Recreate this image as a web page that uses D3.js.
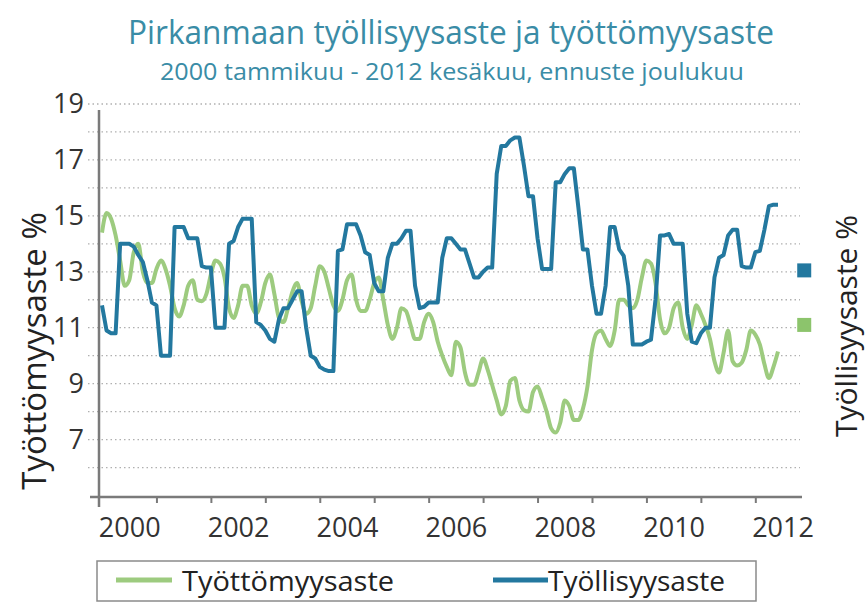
<!DOCTYPE html>
<html>
<head>
<meta charset="utf-8">
<script src="https://cdn.jsdelivr.net/npm/d3@7"></script>
<style>
  body { margin: 0; background: #fff; }
  text { font-family: "Open Sans", "Noto Sans", sans-serif; }
</style>
</head>
<body>
<div id="chart"></div>
<script>
// monthly values, 2000 tammikuu .. 2012 kesäkuu (150 months)
const tyottomyysaste = [
  14.4, 15.1, 14.9, 14.3, 13.4, 12.5, 12.7, 13.7, 14.0, 13.0, 12.6, 12.6,
  13.1, 13.4, 13.1, 12.5, 11.7, 11.4, 11.8, 12.5, 12.7, 12.0, 11.95, 12.2,
  12.9, 13.4, 13.3, 12.8, 11.7, 11.35, 11.8, 12.5, 12.5, 11.8, 11.5, 11.9,
  12.6, 12.9, 12.2, 11.35, 11.2, 11.7, 12.3, 12.6, 11.95, 11.5, 11.7, 12.5,
  13.2, 13.0, 12.4, 11.8, 11.6, 12.0, 12.7, 12.9, 12.0, 11.6, 11.6, 12.0,
  12.6, 12.8, 12.0, 11.1, 10.6, 11.0, 11.7, 11.6, 11.1, 10.6, 10.6, 11.2,
  11.5, 11.2, 10.5, 10.0, 9.6, 9.3, 10.5, 10.3, 9.4, 8.96, 8.96, 9.4,
  9.9, 9.5, 8.95, 8.4, 7.9, 8.2, 9.1, 9.2, 8.4, 8.05, 8.0, 8.7,
  8.9, 8.5, 8.0, 7.4, 7.25, 7.6, 8.4, 8.2, 7.7, 7.7, 8.1, 8.9,
  10.2, 10.8, 10.9, 10.6, 10.35, 10.9, 12.0, 12.0, 11.8, 11.7, 12.0, 12.8,
  13.4, 13.3, 12.6, 11.3, 10.8, 11.0, 11.7, 11.9, 11.0, 10.6, 11.1, 11.8,
  11.5, 11.1, 10.6, 9.8, 9.4, 10.1, 10.9, 9.8, 9.65, 9.75, 10.2, 10.9,
  10.75, 10.4, 9.7, 9.2, 9.6, 10.15
];
const tyollisyysaste = [
  11.8, 10.9, 10.8, 10.8, 14.0, 14.0, 14.0, 13.9, 13.6, 13.35, 12.7, 11.9,
  11.8, 10.0, 10.0, 10.0, 14.6, 14.6, 14.6, 14.2, 14.2, 14.2, 13.2, 13.15,
  13.15, 11.0, 11.0, 11.0, 14.0, 14.1, 14.6, 14.9, 14.9, 14.9, 11.2, 11.1,
  10.9, 10.6, 10.5, 11.3, 11.7, 11.7, 12.0, 12.3, 12.3, 11.0, 10.0, 9.9,
  9.6, 9.5, 9.45, 9.45, 13.75, 13.8, 14.7, 14.7, 14.7, 14.3, 13.7, 13.6,
  12.6, 12.3, 12.3, 13.5, 14.0, 14.0, 14.2, 14.47, 14.47, 12.5, 11.7, 11.75,
  11.9, 11.9, 11.9, 13.5, 14.2, 14.2, 14.0, 13.8, 13.8, 13.3, 12.8, 12.8,
  13.0, 13.15, 13.15, 16.5, 17.5, 17.5, 17.7, 17.8, 17.8, 16.8, 15.7, 15.7,
  14.2, 13.1, 13.1, 13.1, 16.2, 16.2, 16.5, 16.7, 16.7, 15.3, 13.8, 13.8,
  12.5, 11.5, 11.5, 12.5, 14.6, 14.6, 13.8, 13.57, 12.5, 10.4, 10.4, 10.4,
  10.5, 10.57, 12.0, 14.3, 14.3, 14.35, 14.0, 14.0, 14.0, 11.5, 10.5, 10.45,
  10.8, 11.0, 11.0, 12.8, 13.5, 13.6, 14.3, 14.5, 14.5, 13.2, 13.15, 13.15,
  13.7, 13.75, 14.5, 15.35, 15.4, 15.4
];
// ennuste joulukuu 2012 (month index 155)
const ennusteKk = 155;
const ennusteTyollisyys = 13.05;
const ennusteTyottomyys = 11.1;

const years = [2000, 2002, 2004, 2006, 2008, 2010, 2012];
const yTicks = [7, 9, 11, 13, 15, 17, 19];

const title = "Pirkanmaan työllisyysaste ja työttömyysaste";
const subtitle = "2000 tammikuu - 2012 kesäkuu, ennuste joulukuu";

const green = "#9dcb7f", blue = "#23789f", teal = "#3a8ca6";

const svg = d3.select("#chart").append("svg")
    .attr("width", 868)
    .attr("height", 604);

const x = d3.scaleLinear().domain([0, 149]).range([102, 778]);
const y = d3.scaleLinear().domain([5, 19]).range([495.5, 104]);

// titles
svg.append("text")
    .attr("x", 451).attr("y", 44)
    .attr("text-anchor", "middle")
    .attr("font-size", 32)
    .attr("fill", teal)
    .attr("textLength", 646).attr("lengthAdjust", "spacingAndGlyphs")
    .text(title);
svg.append("text")
    .attr("x", 452).attr("y", 80)
    .attr("text-anchor", "middle")
    .attr("font-size", 23)
    .attr("fill", teal)
    .attr("textLength", 584).attr("lengthAdjust", "spacingAndGlyphs")
    .text(subtitle);

// dotted grid
svg.append("g")
    .selectAll("line")
    .data(d3.range(6, 20))
    .join("line")
      .attr("x1", 88).attr("x2", 800)
      .attr("y1", d => y(d)).attr("y2", d => y(d))
      .attr("stroke", "#b0b0b0")
      .attr("stroke-width", 1.3)
      .attr("stroke-dasharray", "1.5,3");

// y axis
const yAxis = svg.append("g")
    .attr("transform", "translate(99,0)")
    .call(d3.axisLeft(y).tickValues(yTicks).tickSize(0).tickPadding(15));
yAxis.select(".domain").remove();
yAxis.selectAll("text")
    .attr("font-size", 27)
    .attr("fill", "#333")
    .attr("font-family", "Open Sans");
svg.append("line")
    .attr("x1", 99).attr("x2", 99)
    .attr("y1", 110).attr("y2", 507)
    .attr("stroke", "#7a7a7a").attr("stroke-width", 2.5);

// x axis
const xAxis = svg.append("g")
    .attr("transform", "translate(0,497)")
    .call(d3.axisBottom(x).tickValues(d3.range(12, 145, 12)).tickSize(6).tickFormat(""));
xAxis.select(".domain").remove();
xAxis.selectAll("line").attr("stroke", "#7a7a7a").attr("stroke-width", 2);
svg.append("line")
    .attr("x1", 90).attr("x2", 802)
    .attr("y1", 497).attr("y2", 497)
    .attr("stroke", "#7a7a7a").attr("stroke-width", 2.5);

const xLabels = svg.append("g")
    .attr("transform", "translate(0,518)")
    .call(d3.axisBottom(x)
      .tickValues(years.map(v => (v - 2000) * 12 + 6))
      .tickFormat(d => years[(d - 6) / 24])
      .tickSize(0).tickPadding(0));
xLabels.select(".domain").remove();
xLabels.selectAll("text")
    .attr("font-size", 27)
    .attr("fill", "#333")
    .attr("font-family", "Open Sans");

// lines
const line = d3.line()
    .x((d, i) => x(i))
    .y(d => y(d));

svg.append("path")
    .datum(tyottomyysaste)
    .attr("fill", "none")
    .attr("stroke", green)
    .attr("stroke-width", 4)
    .attr("stroke-linejoin", "round")
    .attr("d", line.curve(d3.curveMonotoneX));

svg.append("path")
    .datum(tyollisyysaste)
    .attr("fill", "none")
    .attr("stroke", blue)
    .attr("stroke-width", 4)
    .attr("stroke-linejoin", "round")
    .attr("d", line.curve(d3.curveLinear));

// forecast squares
svg.append("g")
    .selectAll("rect")
    .data([[ennusteTyollisyys, blue], [ennusteTyottomyys, "#8cc46c"]])
    .join("rect")
      .attr("x", x(ennusteKk) - 8)
      .attr("y", d => y(d[0]) - 7)
      .attr("width", 14).attr("height", 14)
      .attr("fill", d => d[1]);

// axis titles
svg.append("text")
    .attr("transform", "translate(46,351) rotate(-90)")
    .attr("text-anchor", "middle")
    .attr("font-size", 33)
    .attr("fill", "#222")
    .text("Työttömyysaste %");
svg.append("text")
    .attr("transform", "translate(857,326) rotate(-90)")
    .attr("text-anchor", "middle")
    .attr("font-size", 30)
    .attr("fill", "#222")
    .text("Työllisyysaste %");

// legend
const legend = svg.append("g");
legend.append("rect")
    .attr("x", 97).attr("y", 561)
    .attr("width", 659).attr("height", 40)
    .attr("fill", "none")
    .attr("stroke", "#8a8a8a")
    .attr("stroke-width", 1.5);
const items = [["Työttömyysaste", green, 116, 172, 182, 212], ["Työllisyysaste", blue, 493, 548, 548, 177]];
items.forEach(([name, col, a, b, tx, tw]) => {
  legend.append("line")
      .attr("x1", a).attr("x2", b)
      .attr("y1", 580).attr("y2", 580)
      .attr("stroke", col).attr("stroke-width", 5);
  legend.append("text")
      .attr("x", tx).attr("y", 591)
      .attr("font-size", 28)
      .attr("fill", "#222")
      .attr("textLength", tw).attr("lengthAdjust", "spacingAndGlyphs")
      .text(name);
});
</script>
</body>
</html>
